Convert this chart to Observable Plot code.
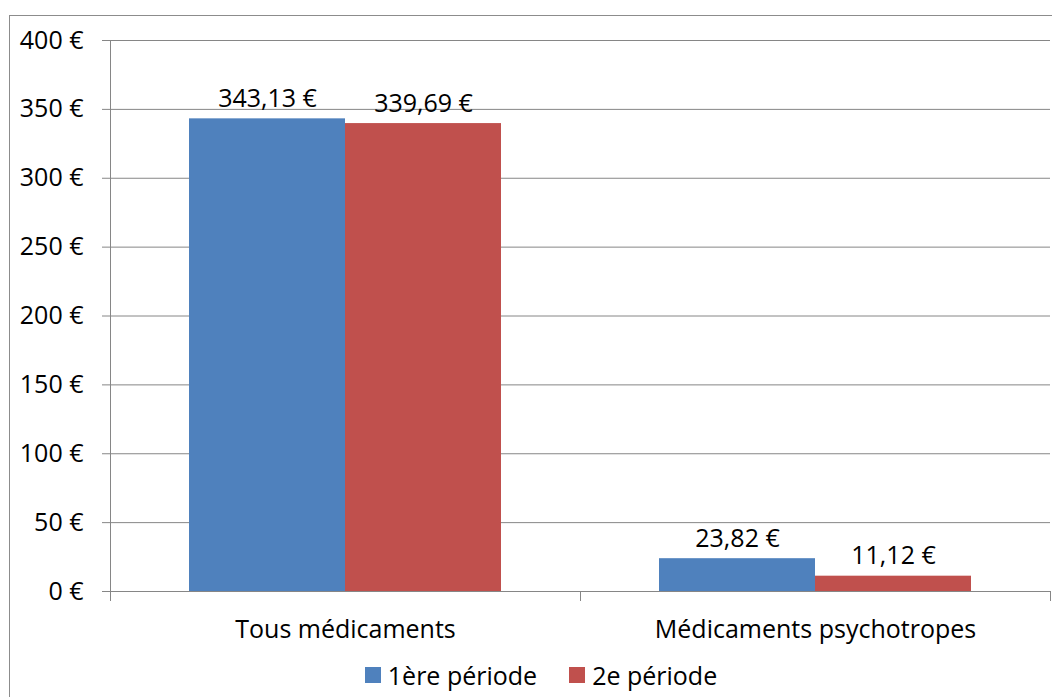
<!DOCTYPE html>
<html><head><meta charset="utf-8">
<script src="https://cdn.jsdelivr.net/npm/d3@7"></script>
<script src="https://cdn.jsdelivr.net/npm/@observablehq/plot@0.6"></script>
<style>
html,body{margin:0;padding:0;background:#fff;overflow:hidden;width:1052px;height:697px;font-family:"Open Sans",sans-serif;}
#frame{position:absolute;left:9px;top:15px;width:1100px;height:800px;border:1px solid #8c8c8c;box-sizing:border-box;}
#chart{position:absolute;left:0;top:0;}
#legend{position:absolute;left:15px;top:657px;width:1052px;height:36px;display:flex;justify-content:center;align-items:center;font-size:25px;color:#000;}
#legend .item{display:flex;align-items:center;margin:0 16px;}
#legend .sw{width:16px;height:16px;margin-right:7px;}
</style></head>
<body>
<div id="frame"></div>
<div id="chart"></div>
<div id="legend"></div>
<script>
const categories = ["Tous médicaments", "Médicaments psychotropes"];
const periods = ["1ère période", "2e période"];
const period1 = [343.13, 23.82];
const period2 = [339.69, 11.12];
const yTicks = [0, 50, 100, 150, 200, 250, 300, 350, 400];
const colors = ["#4F81BD", "#C0504D"];

const rows = [];
categories.forEach((c, i) => {
  rows.push({cat: c, period: periods[0], value: period1[i]});
  rows.push({cat: c, period: periods[1], value: period2[i]});
});
const fmt = v => v.toFixed(2).replace(".", ",") + " €";

const chart = Plot.plot({
  width: 1052,
  height: 645,
  marginLeft: 110,
  marginRight: 2,
  marginTop: 40,
  marginBottom: 54,
  style: {fontFamily: "'Open Sans', sans-serif", fontSize: "25px", color: "#000", background: "transparent"},
  fx: {domain: categories, padding: 0, label: null},
  x: {domain: periods, padding: 0, paddingOuter: 0.5, axis: null},
  y: {domain: [0, 400], label: null},
  color: {domain: periods, range: colors},
  marks: [
    Plot.gridY(yTicks, {stroke: "#868686", strokeOpacity: 1, strokeWidth: 1}),
    Plot.axisY(yTicks, {tickSize: 8, tickPadding: 19, stroke: "#868686", tickFormat: d => d + " €", fontSize: 25, label: null}),
    Plot.axisFx({anchor: "bottom", tickSize: 0, tickPadding: 29, fontSize: 25, label: null}),
    Plot.frame({anchor: "left", stroke: "#868686", insetTop: 551, insetBottom: -9}),
    Plot.frame({anchor: "right", stroke: "#868686", insetTop: 551, insetBottom: -9}),
    Plot.frame({anchor: "left", stroke: "#868686", insetBottom: -9, fx: () => categories[0]}),
    Plot.barY(rows, {fx: "cat", x: "period", y: "value", fill: "period"}),
    Plot.text(rows, {fx: "cat", x: "period", y: "value", text: d => fmt(d.value), dy: -12, lineAnchor: "bottom", fontSize: 25, fill: "#000"})
  ]
});
document.getElementById("chart").appendChild(chart);

const legend = document.getElementById("legend");
periods.forEach((p, i) => {
  const it = document.createElement("div");
  it.className = "item";
  const sw = document.createElement("div");
  sw.className = "sw";
  sw.style.background = colors[i];
  const t = document.createElement("span");
  t.textContent = p;
  it.appendChild(sw); it.appendChild(t);
  legend.appendChild(it);
});
</script>
</body></html>
